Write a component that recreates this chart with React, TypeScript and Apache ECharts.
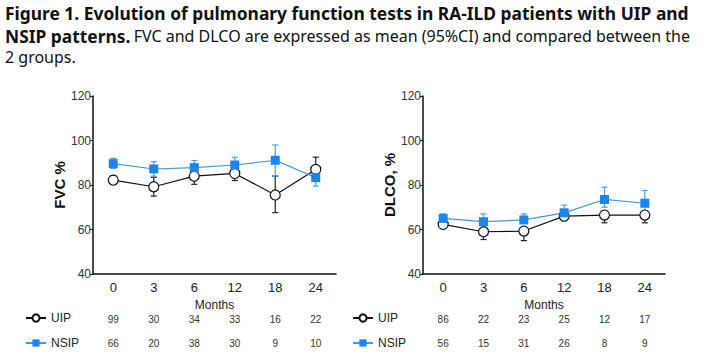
import React, { useEffect, useRef } from "react";
import * as echarts from "echarts";

const months = ["0", "3", "6", "12", "18", "24"];

// FVC %
const fvcUip = [82.2, 79.2, 84.0, 85.2, 75.5, 87.0];
const fvcUipLo = [80.3, 75.0, 80.3, 82.0, 67.6, 82.0];
const fvcUipHi = [84.2, 83.5, 87.3, 88.3, 84.0, 92.5];
const fvcNsip = [89.6, 87.2, 87.8, 89.0, 91.1, 83.3];
const fvcNsipLo = [87.5, 84.0, 85.0, 86.0, 84.0, 79.5];
const fvcNsipHi = [92.0, 90.5, 91.0, 92.5, 98.0, 86.0];

// DLCO %
const dlcoUip = [62.3, 59.0, 59.3, 66.0, 66.5, 66.5];
const dlcoUipLo = [61.0, 55.5, 55.0, 64.0, 63.0, 63.0];
const dlcoUipHi = [63.5, 59.0, 59.3, 67.0, 66.5, 66.5];
const dlcoNsip = [65.0, 63.5, 64.3, 67.5, 73.5, 71.8];
const dlcoNsipLo = [65.0, 63.5, 64.3, 67.5, 70.0, 67.0];
const dlcoNsipHi = [67.0, 67.0, 67.0, 71.0, 79.0, 77.5];

// Number of patients at each time point
const fvcUipN = ["99", "30", "34", "33", "16", "22"];
const fvcNsipN = ["66", "20", "38", "30", "9", "10"];
const dlcoUipN = ["86", "22", "23", "25", "12", "17"];
const dlcoNsipN = ["56", "15", "31", "26", "8", "9"];

const BLUE = "#1a84f0";
const BLUE_LINE = "#3d97e8";
const FONT = "Liberation Sans, Arial, sans-serif";

function errData(lo: number[], hi: number[]) {
  return lo.map((l, i) => [i, l, hi[i]]);
}

function errorSeries(name: string, idx: number, lo: number[], hi: number[], color: string) {
  return {
    type: "custom",
    name,
    xAxisIndex: idx * 3,
    yAxisIndex: idx,
    z: 1,
    data: errData(lo, hi),
    encode: { x: 0, y: [1, 2] },
    renderItem: (params: any, api: any) => {
      const x = api.value(0);
      const pLo = api.coord([x, api.value(1)]);
      const pHi = api.coord([x, api.value(2)]);
      const w = 3;
      const st = { stroke: color, lineWidth: 1.2 };
      return {
        type: "group",
        children: [
          { type: "line", shape: { x1: pLo[0], y1: pLo[1], x2: pHi[0], y2: pHi[1] }, style: st },
          { type: "line", shape: { x1: pLo[0] - w, y1: pLo[1], x2: pLo[0] + w, y2: pLo[1] }, style: st },
          { type: "line", shape: { x1: pHi[0] - w, y1: pHi[1], x2: pHi[0] + w, y2: pHi[1] }, style: st },
        ],
      };
    },
  };
}

function lineSeries(name: string, idx: number, data: number[], isUip: boolean) {
  return {
    type: "line",
    name,
    xAxisIndex: idx * 3,
    yAxisIndex: idx,
    data,
    z: 3,
    symbol: isUip ? "circle" : "rect",
    symbolSize: isUip ? 10 : 9,
    lineStyle: { color: isUip ? "#111" : BLUE_LINE, width: 1.2 },
    itemStyle: isUip
      ? { color: "#fff", borderColor: "#111", borderWidth: 1.2 }
      : { color: BLUE, borderColor: BLUE, borderWidth: 0 },
  };
}

function mainX(grid: number) {
  return {
    type: "category",
    gridIndex: grid,
    data: months,
    boundaryGap: true,
    name: "Months",
    nameLocation: "middle",
    nameGap: 22,
    nameTextStyle: { fontFamily: FONT, fontSize: 12, color: "#222" },
    axisLine: { lineStyle: { color: "#111", width: 1.5 } },
    axisTick: { show: false },
    axisLabel: { fontFamily: FONT, fontSize: 13, color: "#222", margin: 7 },
  };
}

function countX(grid: number, data: string[], offset: number) {
  return {
    type: "category",
    gridIndex: grid,
    data,
    position: "bottom",
    offset,
    boundaryGap: true,
    axisLine: { show: false },
    axisTick: { show: false },
    axisLabel: { fontFamily: FONT, fontSize: 10, color: "#333", margin: 0 },
  };
}

function yAx(grid: number, name: string) {
  return {
    type: "value",
    gridIndex: grid,
    min: 40,
    max: 120,
    interval: 20,
    name,
    nameLocation: "middle",
    nameGap: 25,
    nameTextStyle: { fontFamily: FONT, fontSize: 15, fontWeight: "bold", color: "#111" },
    axisLine: { show: true, lineStyle: { color: "#111", width: 1.5 } },
    axisTick: { show: true, length: 3, lineStyle: { color: "#111" } },
    splitLine: { show: false },
    axisLabel: { fontFamily: FONT, fontSize: 12, color: "#333", margin: 2 },
  };
}

export default function App() {
  const ref = useRef<HTMLDivElement>(null);
  useEffect(() => {
    const chart = echarts.init(ref.current!, null, { renderer: "svg" });
    const legendCommon = {
      orient: "vertical",
      top: 312,
      padding: 0,
      itemWidth: 20,
      itemHeight: 9,
      itemGap: 13,
      data: ["UIP", "NSIP"],
      textStyle: { fontFamily: FONT, fontSize: 12, color: "#222" },
      selectedMode: false,
    };
    chart.setOption({
      animation: false,
      backgroundColor: "#fff",
      grid: [
        { left: 93, top: 96, width: 243, height: 178 },
        { left: 423, top: 96, width: 242, height: 178 },
      ],
      xAxis: [
        mainX(0),
        countX(0, fvcUipN, 40),
        countX(0, fvcNsipN, 64),
        mainX(1),
        countX(1, dlcoUipN, 40),
        countX(1, dlcoNsipN, 64),
      ],
      yAxis: [yAx(0, "FVC %"), yAx(1, "DLCO, %")],
      legend: [
        { ...legendCommon, left: 25 },
        { ...legendCommon, left: 352 },
      ],
      graphic: [
        {
          type: "text",
          left: 5,
          top: 4,
          style: {
            text: "Figure 1. Evolution of pulmonary function tests in RA-ILD patients with UIP and",
            font: "bold 17.4px 'Noto Sans', sans-serif",
            fill: "#111",
          },
        },
        {
          type: "text",
          left: 5,
          top: 27,
          style: {
            text: "{b|NSIP patterns.} {n|FVC and DLCO are expressed as mean (95%CI) and compared between the}",
            rich: {
              b: { font: "bold 17.4px 'Noto Sans', sans-serif", fill: "#111" },
              n: { font: "16px 'Noto Sans', sans-serif", fill: "#111" },
            },
          },
        },
        {
          type: "text",
          left: 5,
          top: 49,
          style: { text: "2 groups.", font: "16px 'Noto Sans', sans-serif", fill: "#111" },
        },
      ],
      series: [
        errorSeries("UIP CI", 0, fvcUipLo, fvcUipHi, "#222"),
        errorSeries("NSIP CI", 0, fvcNsipLo, fvcNsipHi, "#4a9fe6"),
        lineSeries("UIP", 0, fvcUip, true),
        lineSeries("NSIP", 0, fvcNsip, false),
        errorSeries("UIP CI", 1, dlcoUipLo, dlcoUipHi, "#222"),
        errorSeries("NSIP CI", 1, dlcoNsipLo, dlcoNsipHi, "#4a9fe6"),
        lineSeries("UIP", 1, dlcoUip, true),
        lineSeries("NSIP", 1, dlcoNsip, false),
      ],
    });
    return () => chart.dispose();
  }, []);
  return (
    <div
      ref={ref}
      style={{ position: "fixed", left: 0, top: 0, width: 712, height: 354, background: "#fff" }}
    />
  );
}
